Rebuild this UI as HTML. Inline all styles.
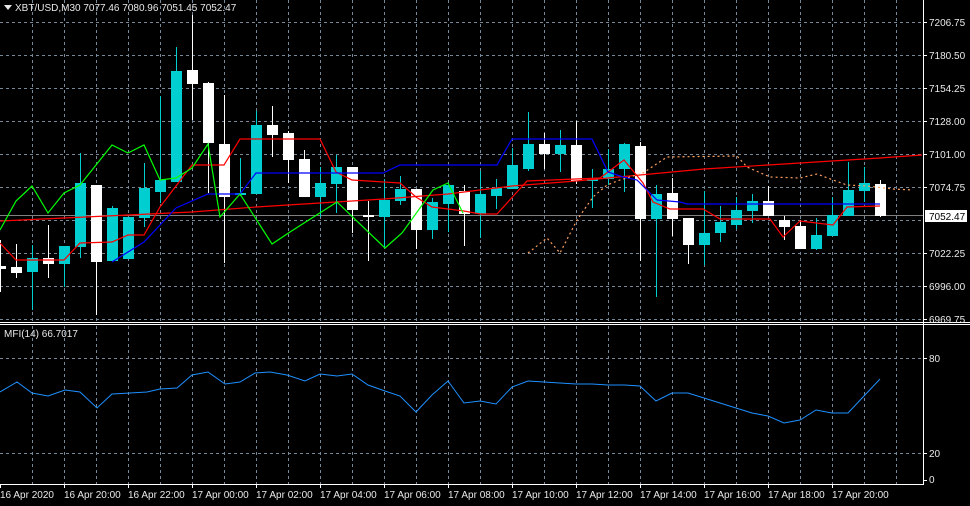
<!DOCTYPE html>
<html><head><meta charset="utf-8"><style>
html,body{margin:0;padding:0;background:#000;}
svg{display:block;font-family:"Liberation Sans",sans-serif;font-size:10px;}
</style></head><body>
<svg width="970" height="506" viewBox="0 0 970 506" xmlns="http://www.w3.org/2000/svg">
<rect width="970" height="506" fill="#000"/>
<g stroke="#778899" stroke-width="1" stroke-dasharray="3,3" fill="none">
<path d="M0 22.5H923M0 55.5H923M0 88.5H923M0 121.5H923M0 154.5H923M0 187.5H923M0 220.5H923M0 253.5H923M0 286.5H923M0 319.5H923M0 358.5H923M0 453.5H923"/>
<path d="M32.5 0V322M64.5 0V322M96.5 0V322M128.5 0V322M160.5 0V322M192.5 0V322M224.5 0V322M256.5 0V322M288.5 0V322M320.5 0V322M352.5 0V322M384.5 0V322M416.5 0V322M448.5 0V322M480.5 0V322M512.5 0V322M544.5 0V322M576.5 0V322M608.5 0V322M640.5 0V322M672.5 0V322M704.5 0V322M736.5 0V322M768.5 0V322M800.5 0V322M832.5 0V322M864.5 0V322M896.5 0V322"/>
<path d="M32.5 326V484M64.5 326V484M96.5 326V484M128.5 326V484M160.5 326V484M192.5 326V484M224.5 326V484M256.5 326V484M288.5 326V484M320.5 326V484M352.5 326V484M384.5 326V484M416.5 326V484M448.5 326V484M480.5 326V484M512.5 326V484M544.5 326V484M576.5 326V484M608.5 326V484M640.5 326V484M672.5 326V484M704.5 326V484M736.5 326V484M768.5 326V484M800.5 326V484M832.5 326V484M864.5 326V484M896.5 326V484"/>
</g>
<line x1="0" y1="215.5" x2="923" y2="215.5" stroke="#808080"/>
<g id="c">
<rect x="0" y="240" width="1" height="52" fill="#fff"/><rect x="-5" y="266" width="11" height="3" fill="#fff"/>
<rect x="16" y="244" width="1" height="34" fill="#fff"/><rect x="11" y="267" width="11" height="6" fill="#fff"/>
<rect x="32" y="245" width="1" height="65" fill="#00CED1"/><rect x="27" y="258" width="11" height="14" fill="#00CED1"/>
<rect x="48" y="225" width="1" height="53" fill="#fff"/><rect x="43" y="258" width="11" height="6" fill="#fff"/>
<rect x="64" y="246" width="1" height="41" fill="#00CED1"/><rect x="59" y="246" width="11" height="18" fill="#00CED1"/>
<rect x="80" y="153" width="1" height="105" fill="#00CED1"/><rect x="75" y="183" width="11" height="64" fill="#00CED1"/>
<rect x="96" y="185" width="1" height="130" fill="#fff"/><rect x="91" y="185" width="11" height="77" fill="#fff"/>
<rect x="112" y="206" width="1" height="55" fill="#00CED1"/><rect x="107" y="208" width="11" height="53" fill="#00CED1"/>
<rect x="128" y="217" width="1" height="42" fill="#00CED1"/><rect x="123" y="217" width="11" height="42" fill="#00CED1"/>
<rect x="144" y="163" width="1" height="64" fill="#00CED1"/><rect x="139" y="188" width="11" height="30" fill="#00CED1"/>
<rect x="160" y="96" width="1" height="107" fill="#00CED1"/><rect x="155" y="180" width="11" height="12" fill="#00CED1"/>
<rect x="176" y="47" width="1" height="135" fill="#00CED1"/><rect x="171" y="71" width="11" height="111" fill="#00CED1"/>
<rect x="192" y="15" width="1" height="105" fill="#fff"/><rect x="187" y="70" width="11" height="14" fill="#fff"/>
<rect x="208" y="82" width="1" height="111" fill="#fff"/><rect x="203" y="83" width="11" height="60" fill="#fff"/>
<rect x="224" y="95" width="1" height="168" fill="#fff"/><rect x="219" y="144" width="11" height="53" fill="#fff"/>
<rect x="240" y="158" width="1" height="38" fill="#00CED1"/><rect x="235" y="193" width="11" height="2" fill="#00CED1"/>
<rect x="256" y="111" width="1" height="83" fill="#00CED1"/><rect x="251" y="125" width="11" height="69" fill="#00CED1"/>
<rect x="272" y="106" width="1" height="51" fill="#fff"/><rect x="267" y="125" width="11" height="10" fill="#fff"/>
<rect x="288" y="131" width="1" height="52" fill="#fff"/><rect x="283" y="133" width="11" height="27" fill="#fff"/>
<rect x="304" y="150" width="1" height="47" fill="#fff"/><rect x="299" y="159" width="11" height="38" fill="#fff"/>
<rect x="320" y="167" width="1" height="50" fill="#00CED1"/><rect x="315" y="183" width="11" height="14" fill="#00CED1"/>
<rect x="336" y="155" width="1" height="58" fill="#00CED1"/><rect x="331" y="167" width="11" height="17" fill="#00CED1"/>
<rect x="352" y="167" width="1" height="66" fill="#fff"/><rect x="347" y="167" width="11" height="43" fill="#fff"/>
<rect x="368" y="201" width="1" height="60" fill="#fff"/><rect x="363" y="215" width="11" height="2" fill="#fff"/>
<rect x="384" y="179" width="1" height="69" fill="#00CED1"/><rect x="379" y="200" width="11" height="17" fill="#00CED1"/>
<rect x="400" y="176" width="1" height="29" fill="#00CED1"/><rect x="395" y="189" width="11" height="12" fill="#00CED1"/>
<rect x="416" y="189" width="1" height="60" fill="#fff"/><rect x="411" y="189" width="11" height="41" fill="#fff"/>
<rect x="432" y="198" width="1" height="41" fill="#00CED1"/><rect x="427" y="202" width="11" height="28" fill="#00CED1"/>
<rect x="448" y="183" width="1" height="49" fill="#00CED1"/><rect x="443" y="185" width="11" height="19" fill="#00CED1"/>
<rect x="464" y="185" width="1" height="61" fill="#fff"/><rect x="459" y="191" width="11" height="23" fill="#fff"/>
<rect x="480" y="171" width="1" height="67" fill="#00CED1"/><rect x="475" y="194" width="11" height="20" fill="#00CED1"/>
<rect x="496" y="179" width="1" height="30" fill="#00CED1"/><rect x="491" y="188" width="11" height="8" fill="#00CED1"/>
<rect x="512" y="148" width="1" height="41" fill="#00CED1"/><rect x="507" y="165" width="11" height="24" fill="#00CED1"/>
<rect x="528" y="112" width="1" height="59" fill="#00CED1"/><rect x="523" y="144" width="11" height="25" fill="#00CED1"/>
<rect x="544" y="133" width="1" height="36" fill="#fff"/><rect x="539" y="144" width="11" height="10" fill="#fff"/>
<rect x="560" y="130" width="1" height="42" fill="#00CED1"/><rect x="555" y="145" width="11" height="9" fill="#00CED1"/>
<rect x="576" y="121" width="1" height="63" fill="#fff"/><rect x="571" y="145" width="11" height="36" fill="#fff"/>
<rect x="592" y="169" width="1" height="39" fill="#00CED1"/><rect x="587" y="179" width="11" height="2" fill="#00CED1"/>
<rect x="608" y="149" width="1" height="36" fill="#00CED1"/><rect x="603" y="169" width="11" height="10" fill="#00CED1"/>
<rect x="624" y="143" width="1" height="49" fill="#00CED1"/><rect x="619" y="144" width="11" height="25" fill="#00CED1"/>
<rect x="640" y="142" width="1" height="119" fill="#fff"/><rect x="635" y="146" width="11" height="73" fill="#fff"/>
<rect x="656" y="185" width="1" height="112" fill="#00CED1"/><rect x="651" y="194" width="11" height="25" fill="#00CED1"/>
<rect x="672" y="178" width="1" height="58" fill="#fff"/><rect x="667" y="193" width="11" height="26" fill="#fff"/>
<rect x="688" y="218" width="1" height="46" fill="#fff"/><rect x="683" y="218" width="11" height="27" fill="#fff"/>
<rect x="704" y="191" width="1" height="74" fill="#00CED1"/><rect x="699" y="233" width="11" height="12" fill="#00CED1"/>
<rect x="720" y="206" width="1" height="36" fill="#00CED1"/><rect x="715" y="222" width="11" height="11" fill="#00CED1"/>
<rect x="736" y="197" width="1" height="32" fill="#00CED1"/><rect x="731" y="210" width="11" height="15" fill="#00CED1"/>
<rect x="752" y="194" width="1" height="29" fill="#00CED1"/><rect x="747" y="201" width="11" height="10" fill="#00CED1"/>
<rect x="768" y="186" width="1" height="30" fill="#fff"/><rect x="763" y="201" width="11" height="15" fill="#fff"/>
<rect x="784" y="216" width="1" height="24" fill="#fff"/><rect x="779" y="220" width="11" height="7" fill="#fff"/>
<rect x="800" y="220" width="1" height="29" fill="#fff"/><rect x="795" y="226" width="11" height="23" fill="#fff"/>
<rect x="816" y="218" width="1" height="32" fill="#00CED1"/><rect x="811" y="235" width="11" height="14" fill="#00CED1"/>
<rect x="832" y="197" width="1" height="39" fill="#00CED1"/><rect x="827" y="215" width="11" height="21" fill="#00CED1"/>
<rect x="848" y="162" width="1" height="54" fill="#00CED1"/><rect x="843" y="190" width="11" height="26" fill="#00CED1"/>
<rect x="864" y="167" width="1" height="35" fill="#00CED1"/><rect x="859" y="183" width="11" height="8" fill="#00CED1"/>
<rect x="880" y="180" width="1" height="37" fill="#fff"/><rect x="875" y="184" width="11" height="32" fill="#fff"/>
</g>
<g fill="none" stroke-width="1.2">
<polyline stroke="#f00" points="0,221 64,218 128,215 192,212 256,207 320,203 384,199 448,194 512,186 576,181 640,175 704,169 768,165 832,161 880,158 922,155"/>
<polyline stroke="#f00" points="0,243 16,260 64,260 80,243 112,242 128,235 144,235 160,207 192,165 224,165 240,139 320,139 336,172 352,180 400,183 416,197 432,207 464,211 480,214 497,214 527,181 600,178 624,160 643,183 653,202 670,209 703,209 720,219 770,219 783,237 800,221 833,225 847,207 880,206"/>
<polyline stroke="#0000ff" points="112,262 144,242 176,208 208,194 240,194 256,173 383,173 400,165 497,165 512,139 592,139 608,172 623,177 637,180 657,200 680,202 687,204 880,204"/>
<polyline stroke="#00ff00" points="0,230 16,201 32,186 48,213 64,193 80,185 112,145 128,153 144,145 160,180 176,178 192,168 208,144 220,217 240,194 272,244 290,232 337,202 385,248 402,233 433,190 448,183 463,213"/>
<polyline stroke="#ffa060" stroke-dasharray="2,3" points="528,253 547,238 560,253 577,220 593,197 607,185 620,180 643,173 667,157 737,156 747,167 770,177 800,178 817,174 833,180 847,185 867,186 893,189 912,190"/>
</g>
<polyline fill="none" stroke="#1e90ff" stroke-width="1" points="0,392 17,382 32,393 48,396 65,390 80,392 97,408 112,394 130,393 147,392 160,389 177,388 192,375 208,372 225,384 240,382 255,373 270,372 287,375 305,381 320,374 337,376 352,374 368,385 385,391 400,396 416,412 432,395 448,381 464,403 480,401 496,404 512,387 528,381 544,382 560,383 576,384 592,384 608,385 624,385 640,386 656,401 672,393 688,393 704,398 720,403 736,408 752,413 768,416 784,423 800,420 816,410 832,413 848,413 864,396 880,379"/>
<rect x="923" y="0" width="47" height="506" fill="#000"/>
<g stroke="#fff" stroke-width="1">
<line x1="923.5" y1="0" x2="923.5" y2="485"/>
<line x1="0" y1="322.5" x2="970" y2="322.5"/>
<line x1="0" y1="324.5" x2="970" y2="324.5"/>
<line x1="0" y1="484.5" x2="924" y2="484.5"/>
<path d="M923 22.5h4M923 55.5h4M923 88.5h4M923 121.5h4M923 154.5h4M923 187.5h4M923 253.5h4M923 286.5h4M923 319.5h4M923 358.5h4M923 453.5h4M923 480.5h4"/>
<path d="M0.5 484v4M64.5 484v4M128.5 484v4M192.5 484v4M256.5 484v4M320.5 484v4M384.5 484v4M448.5 484v4M512.5 484v4M576.5 484v4M640.5 484v4M704.5 484v4M768.5 484v4M832.5 484v4"/>
</g>
<g fill="#e8e8e8">
<text x="929" y="26">7206.75</text>
<text x="929" y="59">7180.50</text>
<text x="929" y="92">7154.25</text>
<text x="929" y="125">7128.00</text>
<text x="929" y="158">7101.00</text>
<text x="929" y="191">7074.75</text>
<text x="929" y="257">7022.25</text>
<text x="929" y="290">6996.00</text>
<text x="929" y="323">6969.75</text>
<text x="929" y="362">80</text>
<text x="929" y="457">20</text>
<text x="929" y="483">0</text>
<text x="0" y="498">16 Apr 2020</text>
<text x="64" y="498">16 Apr 20:00</text>
<text x="128" y="498">16 Apr 22:00</text>
<text x="192" y="498">17 Apr 00:00</text>
<text x="256" y="498">17 Apr 02:00</text>
<text x="320" y="498">17 Apr 04:00</text>
<text x="384" y="498">17 Apr 06:00</text>
<text x="448" y="498">17 Apr 08:00</text>
<text x="512" y="498">17 Apr 10:00</text>
<text x="576" y="498">17 Apr 12:00</text>
<text x="640" y="498">17 Apr 14:00</text>
<text x="704" y="498">17 Apr 16:00</text>
<text x="768" y="498">17 Apr 18:00</text>
<text x="832" y="498">17 Apr 20:00</text>
<path d="M4 5h8l-4 5z"/>
<text x="15" y="11">XBT/USD,M30  7077.46 7080.96 7051.45 7052.47</text>
<text x="4" y="337">MFI(14) 66.7017</text>
</g>
<rect x="925" y="210" width="42" height="12" fill="#fff"/>
<text x="929" y="220" fill="#000">7052.47</text>
</svg>
</body></html>
